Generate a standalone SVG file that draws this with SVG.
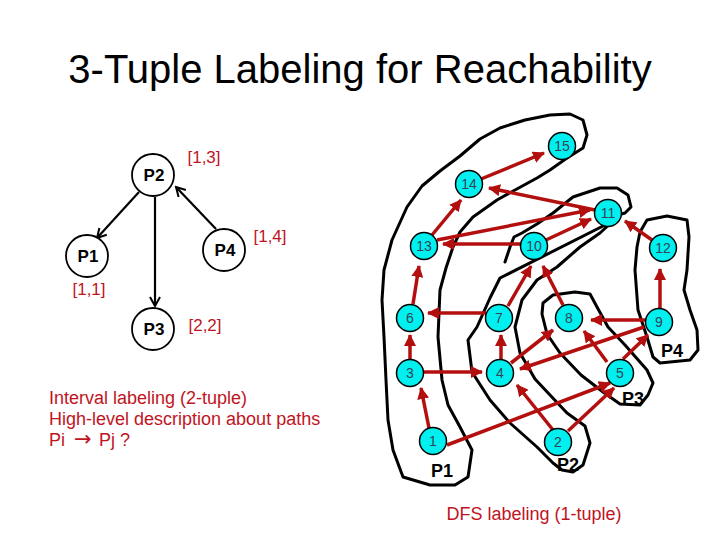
<svg xmlns="http://www.w3.org/2000/svg" width="720" height="540" viewBox="0 0 720 540">
<style>
.title{font-family:"Liberation Sans",Arial,sans-serif;font-size:40px;fill:#000}
.red{font-family:"Liberation Sans",Arial,sans-serif;font-size:18px;fill:#c0141e}
.lab{font-family:"Liberation Sans",Arial,sans-serif;font-size:17px;fill:#c0141e}
.pn{font-family:"Liberation Sans",Arial,sans-serif;font-size:17px;font-weight:bold;fill:#000}
.pb{font-family:"Liberation Sans",Arial,sans-serif;font-size:18px;font-weight:bold;fill:#000}
.num{font-family:"Liberation Sans",Arial,sans-serif;font-size:14px;fill:#334455}
.nc{fill:#00f0f0;stroke:#000;stroke-width:1.5}
.pc{fill:#fff;stroke:#000;stroke-width:1.8}
.blob{fill:none;stroke:#000;stroke-width:3;stroke-linejoin:round;stroke-linecap:round}
.re{stroke:#b30f0f;stroke-width:3.5;fill:none;marker-end:url(#ra)}
.be{stroke:#000;stroke-width:2.2;fill:none;marker-end:url(#ba)}
</style>
<defs>
<marker id="ra" markerUnits="userSpaceOnUse" markerWidth="14" markerHeight="12" refX="11" refY="6" orient="auto"><path d="M0,0 L12,6 L0,12 Z" fill="#b30f0f"/></marker>
<marker id="ba" markerUnits="userSpaceOnUse" markerWidth="12" markerHeight="12" refX="10" refY="6" orient="auto"><path d="M1,1 L10,6 L1,11" fill="none" stroke="#000" stroke-width="2"/></marker>
</defs>
<rect width="720" height="540" fill="#fff"/>
<text class="title" x="360" y="83" text-anchor="middle">3-Tuple Labeling for Reachability</text>

<g id="blobs">
<path id="blobP1" class="blob" d="M430,485 L403,477 L393,450 L388,420 L386,380 L384,337 L382,300 L384,270 L392,240 L407,207 L422,186 L440,171 L460,156 L480,139 L500,128 L525,120 L550,115 L570,114 L583,120 L587,135 L583,148 L567,158 L550,170 L537,178 L515,190 L497,200 L473,217 L460,232 L453,247 L446,268 L440,290 L438,337 L442,380 L448,405 L460,427 L472,450 L468,477 L455,485 Z"/>
<path id="blobP2" class="blob" d="M505,262 L510,247 L514,237 L522,233 L537,224 L553,213 L573,197 L600,188 L617,188 L628,195 L631,207 L625,213 L618,215 M613,221 L600,233 L580,247 L557,267 L537,280 L522,300 L515,327 L520,353 L535,379 L550,395 L567,413 L585,426 L590,443 L583,465 L573,472 L562,470 L553,463 L537,447 L510,423 L490,400 L472,372 L468,340 L477,327 L490,298 L500,278 Z"/>
<path id="blobP3" class="blob" d="M543,303 L553,295 L575,292 L590,294 L597,307 L608,327 L625,345 L647,370 L653,383 L648,395 L640,405 L620,404 L603,392 L581,375 L560,353 L547,334 L542,314 Z"/>
<path id="blobP4" class="blob" d="M647,220 L667,216 L687,220 L689,237 L687,270 L684,290 L690,310 L697,330 L698,350 L690,360 L660,363 L653,357 L647,337 L638,310 L635,270 L637,247 L640,232 Z"/>
</g>

<g id="connectors">
<line class="re" x1="481" y1="179" x2="544" y2="153"/>
<line class="re" x1="432" y1="235" x2="461" y2="200"/>
<line class="re" x1="595" y1="210" x2="489" y2="188"/>
<line class="re" x1="437" y1="240" x2="590" y2="210"/>
<line class="re" x1="546" y1="240" x2="591" y2="219"/>
<line class="re" x1="520" y1="244" x2="443" y2="244"/>
<line class="re" x1="652" y1="240" x2="625" y2="221"/>
<line class="re" x1="413" y1="304" x2="419" y2="266"/>
<line class="re" x1="508" y1="306" x2="531" y2="266"/>
<line class="re" x1="563" y1="305" x2="543" y2="266"/>
<line class="re" x1="660" y1="308" x2="660" y2="269"/>
<line class="re" x1="486" y1="313" x2="428" y2="313"/>
<line class="re" x1="410" y1="359" x2="410" y2="335"/>
<line class="re" x1="501" y1="359" x2="501" y2="335"/>
<line class="re" x1="424" y1="372" x2="482" y2="372"/>
<line class="re" x1="511" y1="363" x2="553" y2="330"/>
<line class="re" x1="645" y1="320" x2="591" y2="320"/>
<line class="re" x1="644" y1="327" x2="520" y2="369"/>
<line class="re" x1="607" y1="362" x2="584" y2="331"/>
<line class="re" x1="623" y1="359" x2="648" y2="335"/>
<line class="re" x1="429" y1="428" x2="421" y2="388"/>
<line class="re" x1="447" y1="445" x2="610" y2="383"/>
<line class="re" x1="553" y1="430" x2="517" y2="385"/>
<line class="re" x1="568" y1="431" x2="614" y2="388"/>
<line class="be" x1="139" y1="192" x2="97" y2="238"/>
<line class="be" x1="155" y1="197" x2="155" y2="306"/>
<line class="be" x1="216" y1="229" x2="176" y2="187"/>
</g>

<g id="n15"><circle class="nc" cx="562" cy="146" r="13.5"/><text class="num" x="562" y="151" text-anchor="middle">15</text></g>
<g id="n14"><circle class="nc" cx="469" cy="184" r="13.5"/><text class="num" x="469" y="189" text-anchor="middle">14</text></g>
<g id="n13"><circle class="nc" cx="424" cy="246" r="13.5"/><text class="num" x="424" y="251" text-anchor="middle">13</text></g>
<g id="n10"><circle class="nc" cx="534" cy="246" r="13.5"/><text class="num" x="534" y="251" text-anchor="middle">10</text></g>
<g id="n11"><circle class="nc" cx="608" cy="213" r="13.5"/><text class="num" x="608" y="218" text-anchor="middle">11</text></g>
<g id="n12"><circle class="nc" cx="663" cy="248" r="13.5"/><text class="num" x="663" y="253" text-anchor="middle">12</text></g>
<g id="n6"><circle class="nc" cx="410" cy="318" r="13.5"/><text class="num" x="410" y="323" text-anchor="middle">6</text></g>
<g id="n7"><circle class="nc" cx="499" cy="318" r="13.5"/><text class="num" x="499" y="323" text-anchor="middle">7</text></g>
<g id="n8"><circle class="nc" cx="569" cy="318" r="13.5"/><text class="num" x="569" y="323" text-anchor="middle">8</text></g>
<g id="n9"><circle class="nc" cx="659" cy="322" r="13.5"/><text class="num" x="659" y="327" text-anchor="middle">9</text></g>
<g id="n3"><circle class="nc" cx="410" cy="373" r="13.5"/><text class="num" x="410" y="378" text-anchor="middle">3</text></g>
<g id="n4"><circle class="nc" cx="500" cy="373" r="13.5"/><text class="num" x="500" y="378" text-anchor="middle">4</text></g>
<g id="n5"><circle class="nc" cx="620" cy="373" r="13.5"/><text class="num" x="620" y="378" text-anchor="middle">5</text></g>
<g id="n1"><circle class="nc" cx="433" cy="441" r="13.5"/><text class="num" x="433" y="446" text-anchor="middle">1</text></g>
<g id="n2"><circle class="nc" cx="558" cy="442" r="13.5"/><text class="num" x="558" y="447" text-anchor="middle">2</text></g>

<g id="plabels">
<text class="pb" x="442" y="477" text-anchor="middle">P1</text>
<text class="pb" x="568" y="471" text-anchor="middle">P2</text>
<text class="pb" x="633" y="405" text-anchor="middle">P3</text>
<text class="pb" x="672" y="357" text-anchor="middle">P4</text>
</g>

<g id="P2"><circle class="pc" cx="153" cy="175" r="21"/><text class="pn" x="154" y="181" text-anchor="middle">P2</text></g>
<g id="P1"><circle class="pc" cx="87" cy="256" r="21"/><text class="pn" x="88" y="262" text-anchor="middle">P1</text></g>
<g id="P4"><circle class="pc" cx="224" cy="250" r="21"/><text class="pn" x="225" y="256" text-anchor="middle">P4</text></g>
<g id="P3"><circle class="pc" cx="153" cy="329" r="21"/><text class="pn" x="154" y="335" text-anchor="middle">P3</text></g>

<text class="lab" x="204" y="163" text-anchor="middle">[1,3]</text>
<text class="lab" x="270" y="242" text-anchor="middle">[1,4]</text>
<text class="lab" x="89" y="295" text-anchor="middle">[1,1]</text>
<text class="lab" x="205" y="331" text-anchor="middle">[2,2]</text>

<text class="red" x="49" y="404">Interval labeling (2-tuple)</text>
<text class="red" x="49" y="425">High-level description about paths</text>
<text class="red" x="49" y="446">Pi <tspan x="74" font-family="'DejaVu Sans',sans-serif" font-size="21">→</tspan><tspan x="99">Pj ?</tspan></text>
<text class="red" x="534" y="520" text-anchor="middle">DFS labeling (1-tuple)</text>
</svg>
